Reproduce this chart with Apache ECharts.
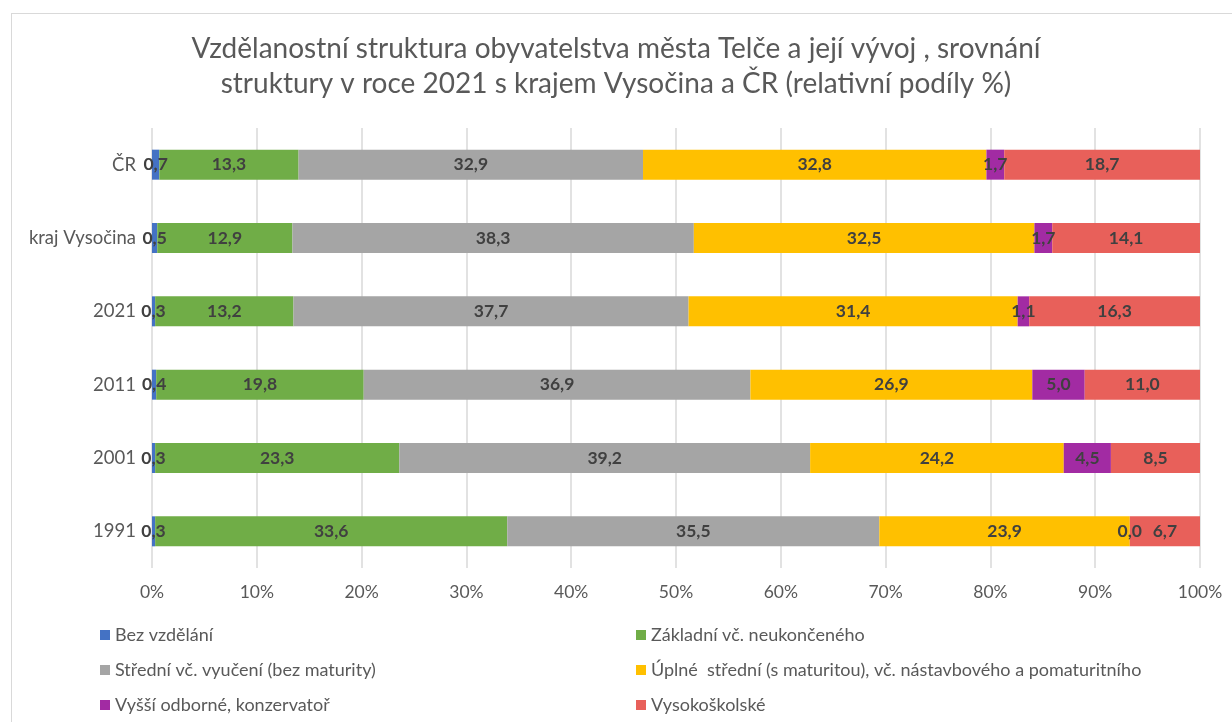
<!DOCTYPE html>
<html lang="cs" style="height: 100%">
<head>
  <meta charset="utf-8">
</head>
<body style="height: 100%; margin: 0; background: #fff">
  <div id="frame" style="position: absolute; left: 11px; top: 13px; width: 1240px; height: 730px; border: 1.5px solid #d9d9d9; box-sizing: border-box"></div>
  <div id="container" style="position: absolute; left: 0; top: 0; width: 1232px; height: 722px"></div>
  <script type="text/javascript" src="https://cdn.jsdelivr.net/npm/echarts@6/dist/echarts.min.js"></script>
  <script type="text/javascript">

    // kategorie (odspodu nahoru)
    var categories = ['1991', '2001', '2011', '2021', 'kraj Vysočina', 'ČR'];

    var seriesNames = [
      'Bez vzdělání',
      'Základní vč. neukončeného',
      'Střední vč. vyučení (bez maturity)',
      'Úplné  střední (s maturitou), vč. nástavbového a pomaturitního',
      'Vyšší odborné, konzervatoř',
      'Vysokoškolské'
    ];

    var bezVzdelani = [0.3, 0.3, 0.4, 0.3, 0.5, 0.7];
    var zakladni = [33.6, 23.3, 19.8, 13.2, 12.9, 13.3];
    var stredni = [35.5, 39.2, 36.9, 37.7, 38.3, 32.9];
    var uplneStredni = [23.9, 24.2, 26.9, 31.4, 32.5, 32.8];
    var vyssiOdborne = [0.0, 4.5, 5.0, 1.1, 1.7, 1.7];
    var vysokoskolske = [6.7, 8.5, 11.0, 16.3, 14.1, 18.7];

    var xTicks = [0, 10, 20, 30, 40, 50, 60, 70, 80, 90, 100];

    var colors = ['#4472C4', '#70AD47', '#A5A5A5', '#FFC000', '#A22BA3', '#E8605A'];

    var allValues = [bezVzdelani, zakladni, stredni, uplneStredni, vyssiOdborne, vysokoskolske];

    // soucty pro 100% skladany graf
    var totals = categories.map(function (c, i) {
      var s = 0;
      allValues.forEach(function (arr) { s += arr[i]; });
      return s;
    });

    var dom = document.getElementById('container');
    var myChart = echarts.init(dom, null, { renderer: 'canvas' });

    var font = 'Lato, "Noto Sans", sans-serif';

    var series = allValues.map(function (arr, k) {
      return {
        name: seriesNames[k],
        type: 'bar',
        stack: 'total',
        barWidth: 30,
        itemStyle: { color: colors[k] },
        label: {
          show: true,
          position: 'inside',
          color: '#404040',
          fontFamily: font,
          fontWeight: 'bold',
          fontSize: 17.5,
          formatter: function (p) {
            return arr[p.dataIndex].toFixed(1).replace('.', ',');
          }
        },
        data: arr.map(function (v, i) { return v / totals[i] * 100; })
      };
    });

    var legendText = { color: '#595959', fontFamily: font, fontSize: 18 };

    var option = {
      animation: false,
      title: {
        text: 'Vzdělanostní struktura obyvatelstva města Telče a její vývoj , srovnání\nstruktury v roce 2021 s krajem Vysočina a ČR (relativní podíly %)',
        left: 'center',
        top: 26,
        textStyle: {
          color: '#595959',
          fontFamily: font,
          fontWeight: 'normal',
          fontSize: 28,
          lineHeight: 35
        }
      },
      grid: {
        left: 152,
        right: 32,
        top: 128,
        bottom: 154
      },
      xAxis: {
        type: 'value',
        min: 0,
        max: 100,
        interval: 10,
        axisLine: { show: false },
        axisTick: { show: false },
        splitLine: { lineStyle: { color: '#d9d9d9', width: 1.5 } },
        axisLabel: {
          color: '#595959',
          fontFamily: font,
          fontSize: 17.5,
          margin: 15,
          formatter: function (v) { return xTicks.indexOf(v) >= 0 ? v + '%' : ''; }
        }
      },
      yAxis: {
        type: 'category',
        data: categories,
        axisLine: { show: false },
        axisTick: { show: false },
        axisLabel: {
          color: '#595959',
          fontFamily: font,
          fontSize: 18.5,
          margin: 16
        }
      },
      legend: [
        {
          data: [seriesNames[0], seriesNames[2], seriesNames[4]],
          orient: 'vertical',
          left: 95,
          top: 621,
          itemWidth: 10,
          itemHeight: 10,
          itemGap: 17,
          icon: 'rect',
          textStyle: legendText
        },
        {
          data: [seriesNames[1], seriesNames[3], seriesNames[5]],
          orient: 'vertical',
          left: 631,
          top: 621,
          itemWidth: 10,
          itemHeight: 10,
          itemGap: 17,
          icon: 'rect',
          textStyle: legendText
        }
      ],
      series: series
    };

    myChart.setOption(option);
    window.addEventListener('resize', myChart.resize);
  </script>
</body>
</html>
